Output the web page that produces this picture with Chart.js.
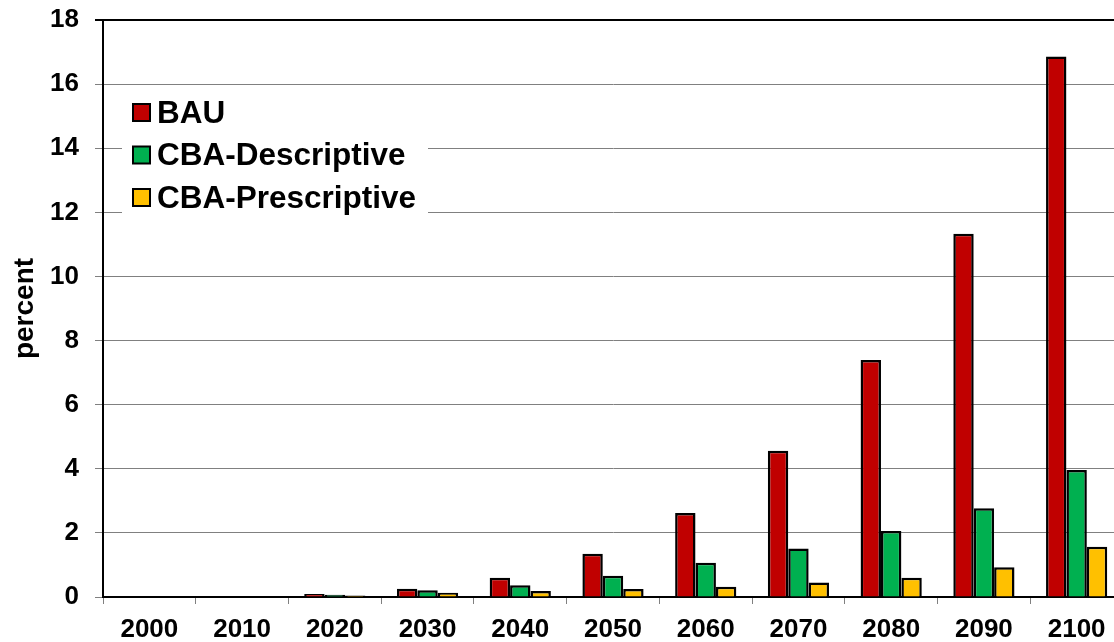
<!DOCTYPE html>
<html>
<head>
<meta charset="utf-8">
<script src="https://cdn.jsdelivr.net/npm/chart.js@4"></script>
<style>
  html, body { margin: 0; padding: 0; background: #fff; overflow: hidden; }
  #outer { width: 1114px; height: 642px; overflow: hidden; }
  #wrap { width: 1124px; height: 642px; }
</style>
</head>
<body>
<div id="outer"><div id="wrap"><canvas id="chart"></canvas></div></div>
<script>
const years = ['2000', '2010', '2020', '2030', '2040', '2050', '2060', '2070', '2080', '2090', '2100'];
const bau = [0, 0.02, 0.09, 0.26, 0.6, 1.35, 2.62, 4.56, 7.39, 11.33, 16.86];
const cbaDescriptive = [0, 0.02, 0.07, 0.21, 0.37, 0.66, 1.07, 1.51, 2.06, 2.77, 3.96];
const cbaPrescriptive = [0, 0.01, 0.05, 0.13, 0.19, 0.25, 0.32, 0.45, 0.6, 0.93, 1.57];
const seriesNames = ['BAU', 'CBA-Descriptive', 'CBA-Prescriptive'];
const seriesColors = ['#C00000', '#00B050', '#FFC000'];

const FONT = 'Liberation Sans, Arial, sans-serif';

// legend drawn inside the plot, on a white box over the grid lines
const insideLegend = {
  id: 'insideLegend',
  afterDatasetsDraw(chart) {
    const ctx = chart.ctx;
    const x0 = 122, y0 = 90;
    ctx.save();
    ctx.fillStyle = '#fff';
    ctx.fillRect(x0, y0, 306, 124);
    ctx.font = 'bold 31.5px ' + FONT;
    ctx.textBaseline = 'middle';
    chart.data.datasets.forEach((ds, i) => {
      const cy = 112 + i * 42.5;
      ctx.fillStyle = ds.backgroundColor;
      ctx.fillRect(x0 + 11, cy - 8, 17, 17);
      ctx.strokeStyle = '#000';
      ctx.lineWidth = 2;
      ctx.strokeRect(x0 + 11, cy - 8, 17, 17);
      ctx.fillStyle = '#000';
      ctx.fillText(ds.label, x0 + 35, cy + 2);
    });
    ctx.restore();
  }
};

new Chart(document.getElementById('chart'), {
  type: 'bar',
  data: {
    labels: years,
    datasets: [bau, cbaDescriptive, cbaPrescriptive].map((d, i) => ({
      label: seriesNames[i],
      data: d,
      backgroundColor: seriesColors[i],
      borderColor: '#000',
      borderWidth: 2.5,
      borderSkipped: 'bottom',
      categoryPercentage: 0.66,
      barPercentage: 1
    }))
  },
  options: {
    responsive: true,
    maintainAspectRatio: false,
    animation: false,
    layout: { padding: { top: 20, right: 1, left: 0, bottom: 0 } },
    plugins: { legend: { display: false }, tooltip: { enabled: false } },
    scales: {
      x: {
        offset: true,
        afterFit: s => { s.height = 45; },
        grid: { offset: true, drawOnChartArea: false, color: '#808080', tickLength: 7 },
        border: { color: '#000', width: 2 },
        ticks: { color: '#000', font: { family: FONT, size: 26, weight: 'bold' }, padding: 10, maxRotation: 0, autoSkip: false }
      },
      y: {
        min: 0,
        max: 18,
        afterFit: s => { s.width = 103; s.paddingTop = 0; s.paddingBottom = 0; },
        ticks: { stepSize: 2, color: '#000', font: { family: FONT, size: 26, weight: 'bold' }, padding: 16 },
        grid: {
          color: c => c.tick && c.tick.value === 18 ? '#000' : '#808080',
          lineWidth: c => c.tick && c.tick.value === 18 ? 2 : 1,
          tickLength: 8
        },
        border: { color: '#000', width: 2 },
        title: { display: true, text: 'percent', color: '#000', font: { family: FONT, size: 28, weight: 'bold' }, padding: 8 }
      }
    }
  },
  plugins: [insideLegend]
});
</script>
</body>
</html>
